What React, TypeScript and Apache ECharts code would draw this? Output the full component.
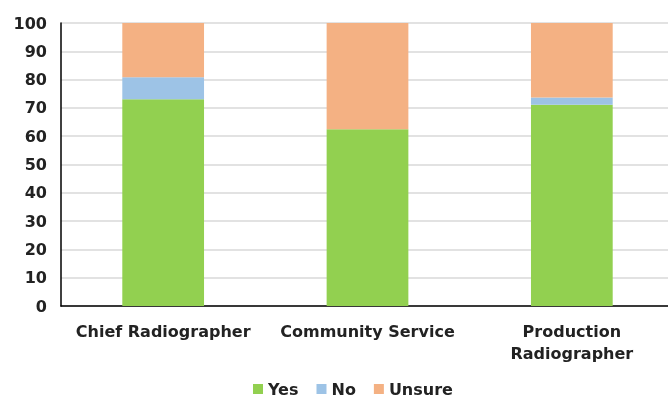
import React, { useEffect, useRef } from "react";
import * as echarts from "echarts";

const categories = ["Chief Radiographer", "Community Service", "Production\nRadiographer"];
const yesValues = [73.1, 62.5, 71.1];
const noValues = [7.7, 0, 2.6];
const unsureValues = [19.2, 37.5, 26.3];
const seriesNames = ["Yes", "No", "Unsure"];
const colors = ["#92D050", "#9DC3E6", "#F4B183"];

export default function App() {
  const ref = useRef<HTMLDivElement>(null);
  useEffect(() => {
    if (!ref.current) return;
    const chart = echarts.init(ref.current, null, { renderer: "svg" });
    const font = "DejaVu Sans, sans-serif";
    const data = [yesValues, noValues, unsureValues];
    chart.setOption({
      animation: false,
      textStyle: { fontFamily: font },
      grid: { left: 61, width: 613, top: 23, height: 283, containLabel: false },
      legend: {
        top: 381,
        left: 253,
        padding: 0,
        itemWidth: 10,
        itemHeight: 10,
        itemGap: 18,
        icon: "rect",
        textStyle: { fontFamily: font, fontWeight: "bold", fontSize: 16, color: "#222" },
        data: seriesNames,
      },
      xAxis: {
        type: "category",
        data: categories,
        axisLine: { lineStyle: { color: "#000", width: 1.5 } },
        axisTick: { show: false },
        axisLabel: {
          fontFamily: font,
          fontWeight: "bold",
          fontSize: 16,
          color: "#222",
          margin: 14,
          lineHeight: 22,
          interval: 0,
        },
      },
      yAxis: {
        type: "value",
        min: 0,
        max: 100,
        interval: 10,
        axisLine: { show: true, lineStyle: { color: "#000", width: 1.5 } },
        axisTick: { show: false },
        splitLine: { lineStyle: { color: "#D9D9D9", width: 1.5 } },
        axisLabel: {
          fontFamily: font,
          fontWeight: "bold",
          fontSize: 16,
          color: "#222",
          margin: 14,
        },
      },
      series: seriesNames.map((name, i) => ({
        name,
        type: "bar",
        stack: "total",
        barWidth: "40%",
        itemStyle: { color: colors[i] },
        data: data[i],
      })),
    });
    return () => chart.dispose();
  }, []);
  return (
    <div style={{ position: "fixed", left: 0, top: 0, width: 668, height: 399, overflow: "hidden" }}>
      <div ref={ref} style={{ width: 690, height: 420 }} />
    </div>
  );
}
